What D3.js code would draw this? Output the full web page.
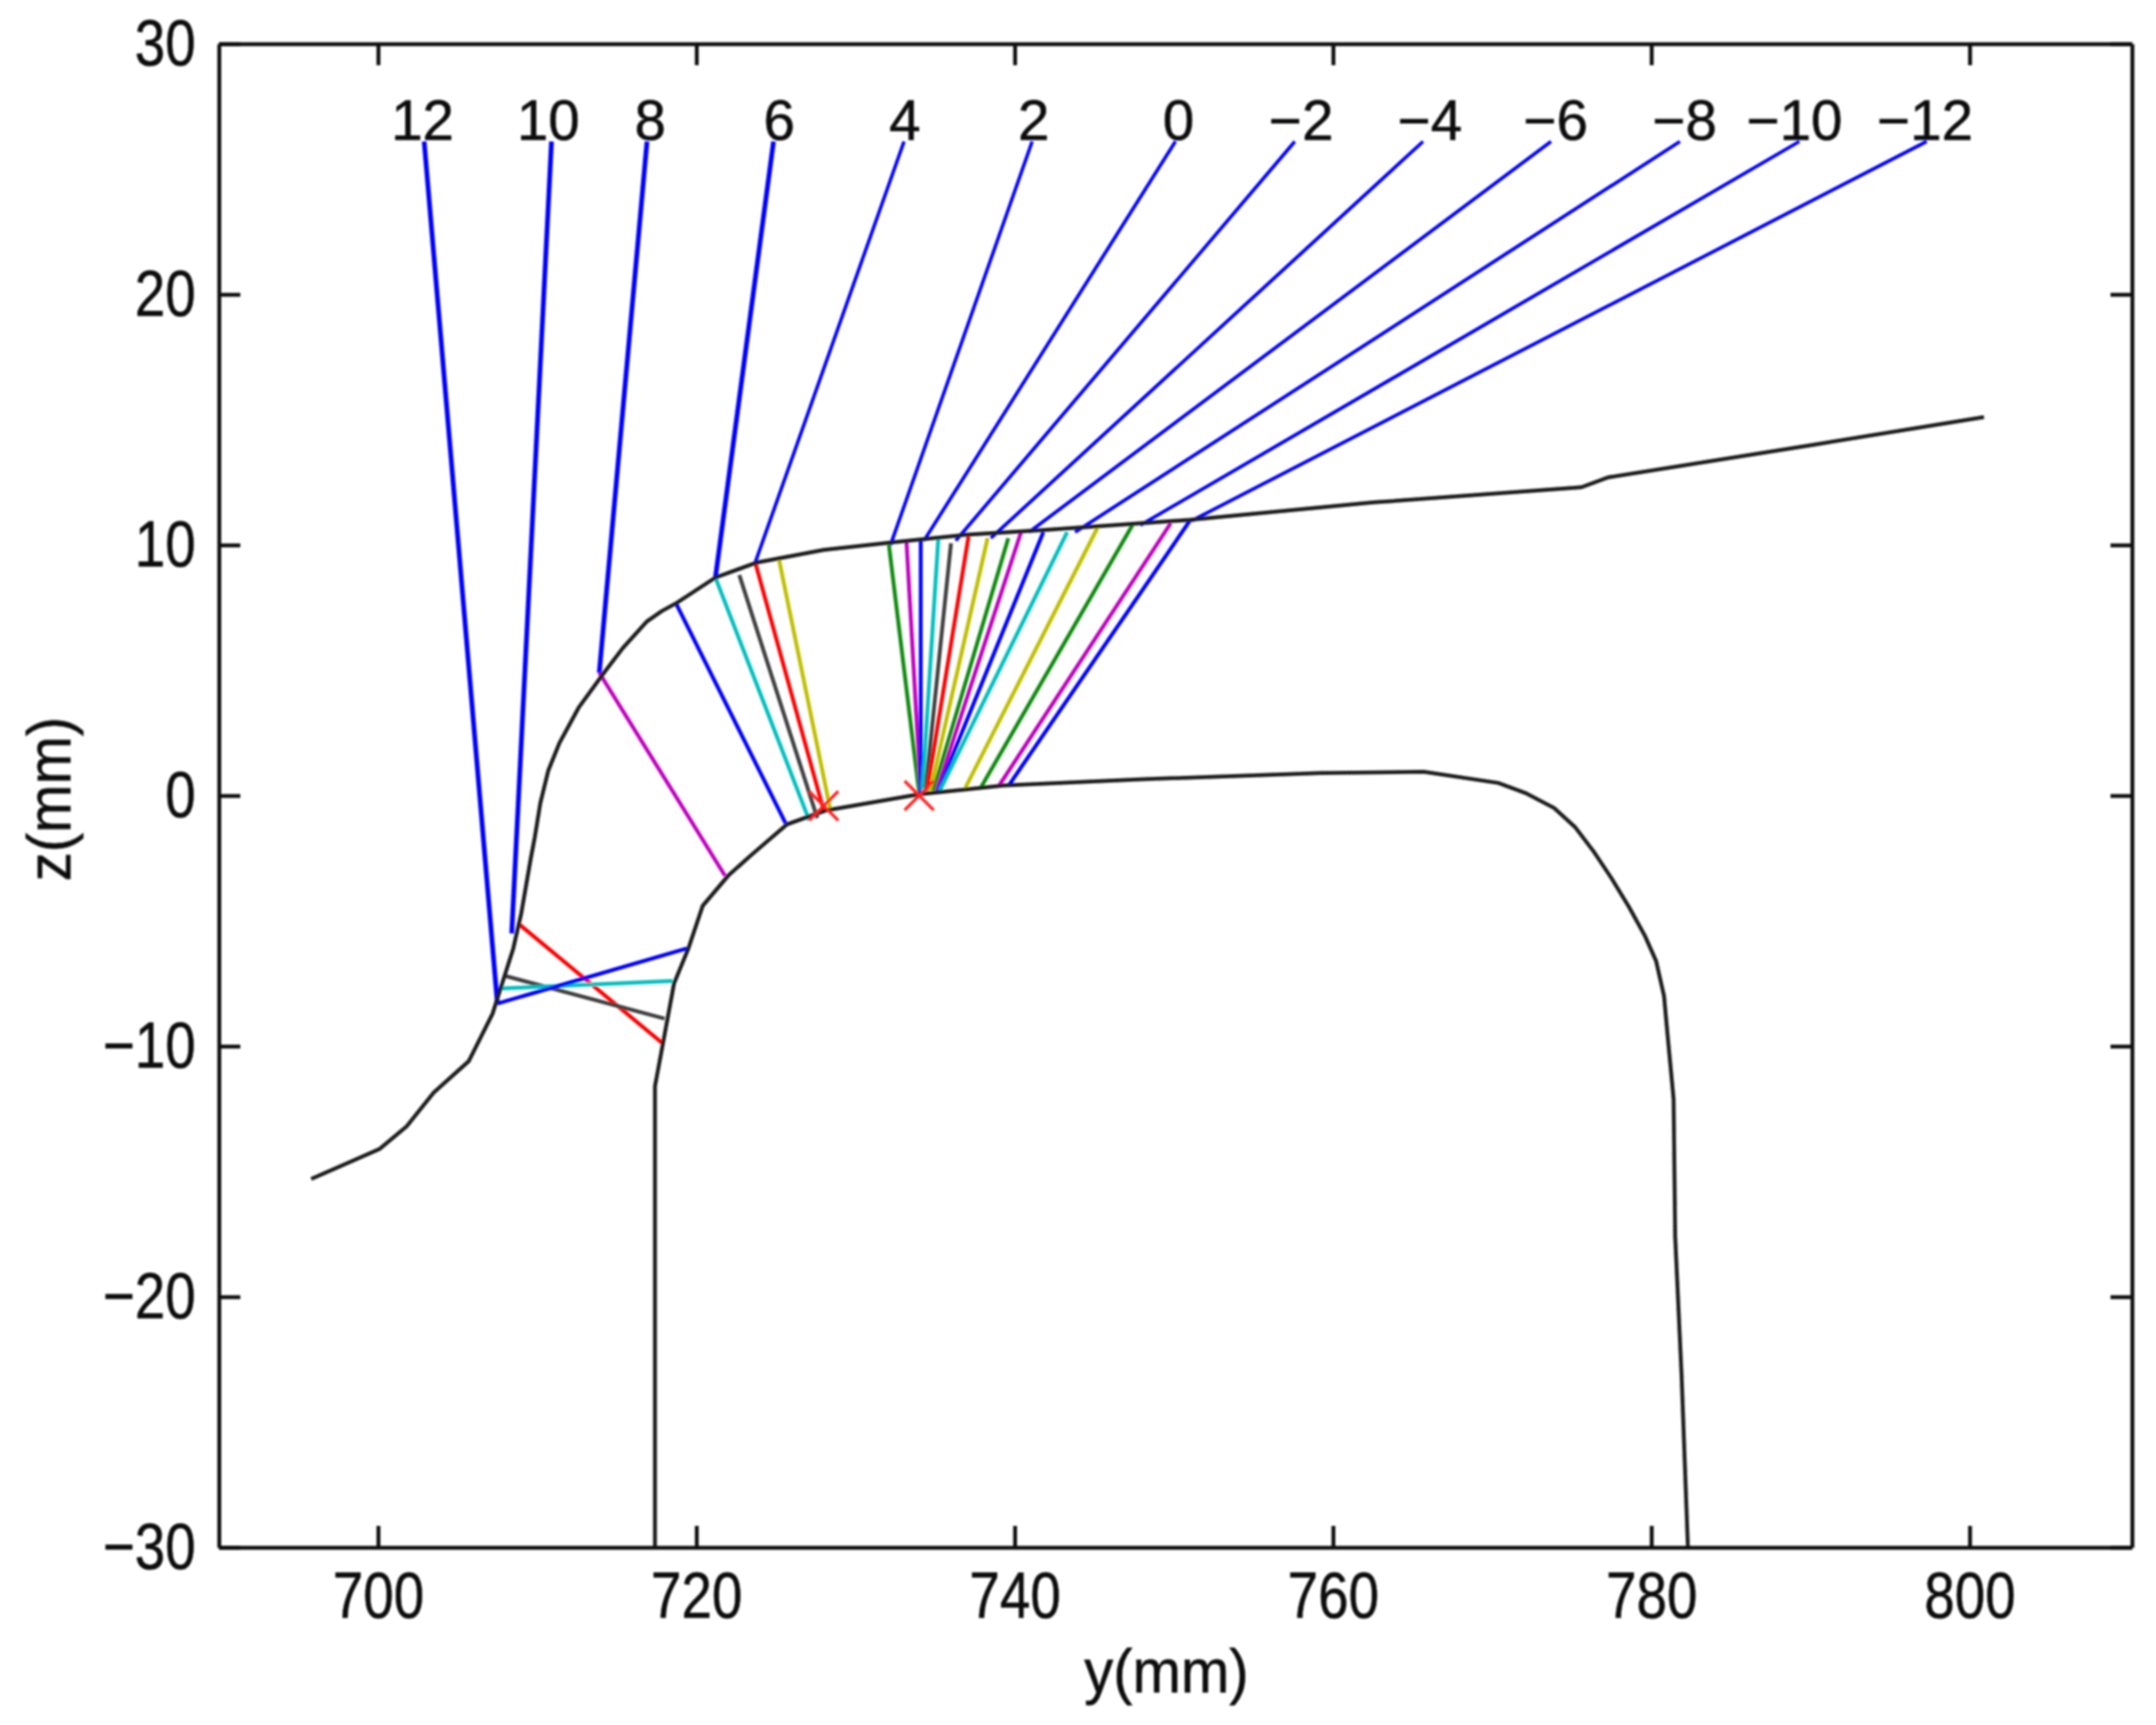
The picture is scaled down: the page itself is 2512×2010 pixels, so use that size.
<!DOCTYPE html>
<html>
<head>
<meta charset="utf-8">
<script src="https://cdn.jsdelivr.net/npm/d3@7"></script>
<style>
    html, body { margin: 0; padding: 0; background: #fff; }
    text { font-family: "Liberation Sans", Arial, sans-serif; fill: #111; stroke: #111; stroke-width: 0.6; }
</style>
</head>
<body>
<div id="chart"></div>
<script>
// wheel and rail outlines [y, z] in mm
var wheelProfile = [[695.8,-15.3],[700.1,-14.1],[701.8,-13.2],[703.5,-11.85],[705.7,-10.6],[707.2,-8.7],[707.9,-7.3],[708.5,-6.1],[709,-4.7],[709.6,-2.5],[709.84,-1.7],[710.2,-0.3],[710.7,1],[711.4,2.1],[712.6,3.5],[714.2,4.9],[715.4,5.9],[716.9,6.95],[717.8,7.35],[718.8,7.7],[721.2,8.7],[723.8,9.3],[728,9.8],[732.3,10.1],[736.8,10.4],[741.9,10.6],[751,11],[762.6,11.7],[775.6,12.3],[777.3,12.7],[790.2,14],[800.9,15.1]];
var railProfile = [[717.4,-30],[717.4,-11.6],[717.9,-9.9],[718.6,-7.5],[719.5,-6.1],[720.4,-4.4],[722,-3.2],[723.4,-2.4],[725.7,-1.15],[728.1,-0.6],[734,0.05],[739.3,0.4],[748,0.65],[759.2,0.9],[765.7,0.95],[770.4,0.5],[772.1,0.1],[773.9,-0.5],[775.2,-1.25],[776.4,-2.25],[777.5,-3.3],[778.6,-4.45],[779.6,-5.6],[780.3,-6.6],[780.8,-8],[781,-9.4],[781.4,-12.1],[781.5,-17.6],[781.9,-23.1],[782.3,-30]];

// blue rays: label, then top end and wheel contact
var rayLabels = ["12","10","8","6","4","2","0","\u22122","\u22124","\u22126","\u22128","\u221210","\u221212"];
var rayLabelY = [702.8,710.7,717.1,725.2,733.1,741.2,750.3,758,766.1,774,782.1,789,797.2];
var rayTops = [702.9,710.9,716.9,724.85,733.05,741.1,750.1,757.6,765.66,773.7,781.8,789.3,797.3];
var rayTopZ = 26.1;
var rayContacts = [[707.5,-8.3],[708.4,-5.5],[713.9,4.9],[721.2,8.7],[723.7,9.3],[732.2,10],[734.3,10.17],[736.3,10.17],[738.5,10.27],[740.9,10.51],[743.8,10.51],[747.9,10.79],[751.1,10.96]];

// chords between wheel and rail [y1, z1, y2, z2, colour key]
var chords = [
    [708.8,-5.1,717.9,-9.9,"r"],[708,-7.2,718,-8.9,"k"],[707.7,-7.7,718.5,-7.4,"c"],[707.5,-8.3,719.4,-6.1,"b"],
    [713.9,4.9,721.8,-3.2,"m"],[718.7,7.7,725.6,-1.1,"b"],[721.2,8.7,727.1,-1,"c"],[722.7,8.8,727.6,-0.9,"k"],
    [723.7,9.3,728,-0.6,"r"],[725.2,9.4,728.4,-0.5,"y"],
    [732.1,10,734,0.1,"g"],[733.2,10.17,734.1,0.1,"m"],[734.1,10.17,734.1,0.1,"b"],[735.2,10.24,734.2,0.2,"c"],
    [736,10.07,734.4,0.2,"k"],[737.1,10.34,734.5,0.2,"r"],[738.3,10.27,734.7,0.2,"y"],[739.6,10.27,734.9,0.2,"g"],
    [740.4,10.51,735.1,0.2,"m"],[741.8,10.51,735.2,0.2,"b"],[743.3,10.51,735.3,0.2,"c"],[745.2,10.68,736.9,0.31,"y"],
    [747.4,10.79,737.9,0.35,"g"],[749.8,10.86,739,0.38,"m"],[751,10.96,739.6,0.38,"b"]
];
var chordColors = { b: "#0000ff", g: "#108a10", r: "#ff0000", c: "#00bfbf", m: "#bf00bf", y: "#bfbf00", k: "#404040" };

var crossPoints = [[734,0],[728,-0.41]];

var yTicks = [700,720,740,760,780,800];
var zTicks = [-30,-20,-10,0,10,20,30];

var width = 2512, height = 2010;
var left = 255, right = 2484, top_ = 51, bottom = 1803;

function render() {
    let svg = d3.select("#chart").append("svg")
        .attr("width", width)
        .attr("height", height)
        .style("display", "block");

    svg.append("defs").append("filter").attr("id", "soft")
        .attr("filterUnits", "userSpaceOnUse")
        .attr("x", 0).attr("y", 0)
        .attr("width", width).attr("height", height)
        .append("feGaussianBlur").attr("stdDeviation", 0.8);

    let root = svg.append("g").attr("filter", "url(#soft)");

    let x = d3.scaleLinear().domain([690, 810.2]).range([left, right]);
    let y = d3.scaleLinear().domain([-30, 30]).range([bottom, top_]);
    let line = d3.line().x(d => x(d[0])).y(d => y(d[1]));

    root.selectAll(".ray").data(rayContacts).enter().append("path")
        .attr("class", "ray")
        .attr("d", (d, i) => line([[rayTops[i], rayTopZ], d]))
        .attr("fill", "none").attr("stroke", "#0000ff")
        .attr("stroke-width", (d, i) => i < 4 ? 5.5 : 4);

    root.selectAll(".chord").data(chords).enter().append("path")
        .attr("class", "chord")
        .attr("d", d => line([[d[0], d[1]], [d[2], d[3]]]))
        .attr("fill", "none").attr("stroke", d => chordColors[d[4]])
        .attr("stroke-width", 4.5);

    [wheelProfile, railProfile].forEach(profile => {
        root.append("path").attr("d", line(profile))
            .attr("fill", "none").attr("stroke", "#1a1a1a").attr("stroke-width", 4.5);
    });

    root.selectAll(".cross").data(crossPoints).enter().append("path")
        .attr("class", "cross")
        .attr("d", d3.symbol().type(d3.symbolX).size(750))
        .attr("transform", d => "translate(" + x(d[0]) + "," + y(d[1]) + ")")
        .attr("fill", "none").attr("stroke", "#ff2020").attr("stroke-width", 3.5);

    // frame with inward ticks on all four sides
    let tickLen = 25;
    let axes = [
        { a: d3.axisBottom(x).tickValues(yTicks).tickSize(-tickLen).tickPadding(28), at: "translate(0," + bottom + ")" },
        { a: d3.axisTop(x).tickValues(yTicks).tickSize(-tickLen).tickFormat(""), at: "translate(0," + top_ + ")" },
        { a: d3.axisLeft(y).tickValues(zTicks).tickSize(-tickLen).tickPadding(32), at: "translate(" + left + ",0)" },
        { a: d3.axisRight(y).tickValues(zTicks).tickSize(-tickLen).tickFormat(""), at: "translate(" + right + ",0)" }
    ];
    axes.forEach(item => {
        let g = root.append("g").attr("transform", item.at).call(item.a.tickSizeOuter(0));
        g.select(".domain").attr("stroke", "#111").attr("stroke-width", 4.5);
        g.selectAll(".tick line").attr("stroke", "#111").attr("stroke-width", 4.5);
        g.selectAll("text").attr("font-size", 76).attr("transform", "scale(.84,1)");
    });

    root.selectAll(".rayLabel").data(rayLabels).enter().append("text")
        .attr("class", "rayLabel")
        .attr("x", (d, i) => x(rayLabelY[i]))
        .attr("y", y(rayTopZ) - 2)
        .attr("text-anchor", "middle")
        .attr("font-size", 66)
        .text(d => d);

    root.append("text")
        .attr("transform", "translate(1359,1972) scale(.94,1)")
        .attr("text-anchor", "middle").attr("font-size", 72)
        .text("y(mm)");

    root.append("text")
        .attr("transform", "translate(82,931) rotate(-90) scale(.94,1)")
        .attr("text-anchor", "middle").attr("font-size", 72)
        .text("z(mm)");
}

render();
</script>
</body>
</html>
